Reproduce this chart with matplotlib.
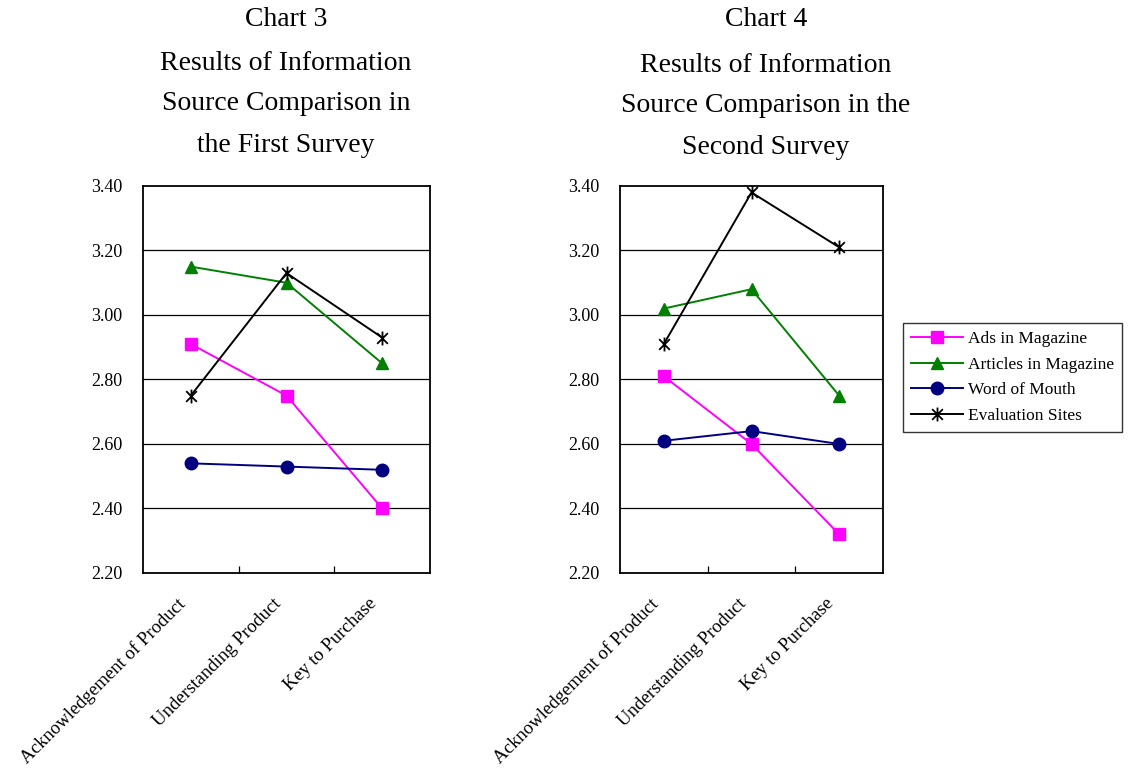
import matplotlib
matplotlib.use("Agg")
import matplotlib.pyplot as plt
import matplotlib.transforms as mtransforms
from matplotlib.path import Path
import numpy as np

plt.rcParams["font.family"] = ["Liberation Serif", "DejaVu Serif"]

categories = ["Acknowledgement of Product", "Understanding Product", "Key to Purchase"]
series_names = ["Ads in Magazine", "Articles in Magazine", "Word of Mouth", "Evaluation Sites"]

# Chart 3 - first survey
first_ads      = [2.91, 2.75, 2.40]
first_articles = [3.15, 3.10, 2.85]
first_wom      = [2.54, 2.53, 2.52]
first_eval     = [2.75, 3.13, 2.93]

# Chart 4 - second survey
second_ads      = [2.81, 2.60, 2.32]
second_articles = [3.02, 3.08, 2.75]
second_wom      = [2.61, 2.64, 2.60]
second_eval     = [2.91, 3.38, 3.21]

yticks = [2.20, 2.40, 2.60, 2.80, 3.00, 3.20, 3.40]

# asterisk: X with a vertical bar
star = Path([(-1, -1), (1, 1), (-1, 1), (1, -1), (0, -1.3), (0, 1.3)],
            [Path.MOVETO, Path.LINETO, Path.MOVETO, Path.LINETO, Path.MOVETO, Path.LINETO])

styles = [
    dict(color="#ff00ff", marker="s", markersize=9),
    dict(color="#008000", marker="^", markersize=9),
    dict(color="#000080", marker="o", markersize=9),
    dict(color="#000000", marker=star, markersize=10, markeredgewidth=1.3),
]

fig = plt.figure(figsize=(11.33, 7.73), dpi=100)


def draw_panel(ax, data):
    x = np.arange(len(categories))
    handles = []
    for vals, st, name in zip(data, styles, series_names):
        h, = ax.plot(x, vals, linewidth=1.4, label=name, zorder=3, **st)
        handles.append(h)
    ax.set_xlim(-0.5, 2.5)
    ax.set_ylim(2.20, 3.40)
    ax.set_yticks(yticks)
    ax.set_yticklabels([f"{v:.2f}" for v in yticks], fontsize=13)
    ax.tick_params(axis="y", length=0, pad=15)
    for v in yticks[1:-1]:
        ax.axhline(v, color="black", linewidth=0.9, zorder=1)
    # category boundary ticks
    ax.set_xticks([0.5, 1.5], minor=True)
    ax.tick_params(axis="x", which="minor", direction="in", length=5, width=0.9)
    ax.set_xticks(x)
    ax.set_xticklabels(categories, rotation=45, ha="right",
                       rotation_mode="anchor", fontsize=13.5)
    ax.tick_params(axis="x", which="major", length=0, pad=16)
    shift = mtransforms.ScaledTranslation(-0.14, 0, fig.dpi_scale_trans)
    for lab in ax.get_xticklabels():
        lab.set_transform(lab.get_transform() + shift)
    for s in ax.spines.values():
        s.set_linewidth(1.3)
    return handles


ax1 = fig.add_axes([143 / 1133, 1 - 573 / 773, 287 / 1133, 387 / 773])
h = draw_panel(ax1, [first_ads, first_articles, first_wom, first_eval])

ax2 = fig.add_axes([620 / 1133, 1 - 573 / 773, 263 / 1133, 387 / 773])
draw_panel(ax2, [second_ads, second_articles, second_wom, second_eval])

# titles
title1 = ["Chart 3", "Results of Information", "Source Comparison in", "the First Survey"]
title2 = ["Chart 4", "Results of Information", "Source Comparison in the", "Second Survey"]
for lines, xc, ys in [(title1, 286, [19, 63, 104, 145]), (title2, 766, [19, 65, 106, 147])]:
    for txt, yy in zip(lines, ys):
        fig.text(xc / 1133, 1 - yy / 773, txt, ha="center", va="center", fontsize=20)

leg = fig.legend(handles=h, loc="upper left",
                 bbox_to_anchor=(903 / 1133, 1 - 323 / 773),
                 fontsize=12.5, frameon=True, fancybox=False,
                 borderpad=0.45, handlelength=3.0, labelspacing=0.55,
                 handletextpad=0.3, borderaxespad=0)
leg.get_frame().set_edgecolor("black")
leg.get_frame().set_linewidth(1.0)

fig.savefig("out.png", dpi=100)
